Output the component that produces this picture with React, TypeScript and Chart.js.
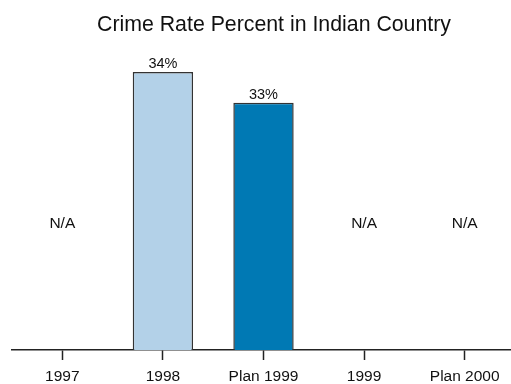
import React, { useEffect, useRef } from "react";
import { Chart, registerables } from "chart.js";

Chart.register(...registerables);

const categories = ["1997", "1998", "Plan 1999", "1999", "Plan 2000"];
const values: (number | null)[] = [null, 34, 33, null, null];
const barColors = ["#b3d1e8", "#b3d1e8", "#0079b4", "#0079b4", "#0079b4"];
const titleText = "Crime Rate Percent in Indian Country";
const naText = "N/A";
const yMin = 25;
const yMax = 35;
const naLevel = 29.1;

const FONT = "'Liberation Sans', Arial, Helvetica, sans-serif";

const labelPlugin = {
  id: "customLabels",
  afterDatasetsDraw(chart: any) {
    const ctx = chart.ctx;
    const area = chart.chartArea;
    const xs = chart.scales.x;
    const ys = chart.scales.y;
    ctx.save();
    ctx.fillStyle = "#111";
    ctx.textAlign = "center";
    ctx.font = `21.3px ${FONT}`;
    ctx.textBaseline = "middle";
    ctx.fillText(titleText, (area.left + area.right) / 2 + 10.5, 25);
    values.forEach((v, i) => {
      const x = xs.getPixelForValue(i);
      if (v === null) {
        ctx.font = `15.5px ${FONT}`;
        ctx.textBaseline = "middle";
        ctx.fillText(naText, x, ys.getPixelForValue(naLevel));
      } else {
        ctx.font = `14.5px ${FONT}`;
        ctx.textBaseline = "bottom";
        ctx.fillText(`${v}%`, x, ys.getPixelForValue(v) - 1);
      }
    });
    ctx.restore();
  },
};

export default function App() {
  const ref = useRef<HTMLCanvasElement | null>(null);
  useEffect(() => {
    if (!ref.current) return;
    const chart = new Chart(ref.current, {
      type: "bar",
      data: {
        labels: categories,
        datasets: [
          {
            data: values as any,
            backgroundColor: barColors,
            borderColor: "#333333",
            borderWidth: 1.5,
            borderSkipped: false,
            categoryPercentage: 0.6,
            barPercentage: 1,
          },
        ],
      },
      options: {
        responsive: false,
        animation: false,
        devicePixelRatio: 1,
        layout: { padding: { left: 12, right: 1, top: 41, bottom: 0 } },
        plugins: {
          legend: { display: false },
          title: { display: false },
          tooltip: { enabled: false },
        },
        scales: {
          x: {
            offset: true,
            afterFit: (scale: any) => {
              scale.height = 34;
            },
            grid: {
              display: true,
              offset: false,
              drawOnChartArea: false,
              drawTicks: true,
              tickLength: 10,
              tickWidth: 1.5,
              tickColor: "#222",
            },
            border: { display: true, color: "#222", width: 1.5 },
            ticks: {
              color: "#111",
              font: { family: FONT, size: 15.5, lineHeight: 0.8 },
              padding: 11,
              maxRotation: 0,
              autoSkip: false,
            },
          },
          y: {
            display: false,
            min: yMin,
            max: yMax,
          },
        },
      },
      plugins: [labelPlugin],
    });
    return () => chart.destroy();
  }, []);
  return (
    <div
      style={{
        position: "fixed",
        left: 0,
        top: 0,
        width: 511,
        height: 384,
        overflow: "hidden",
        background: "#fff",
      }}
    >
      <canvas ref={ref} width={516} height={384} style={{ display: "block" }} />
    </div>
  );
}
